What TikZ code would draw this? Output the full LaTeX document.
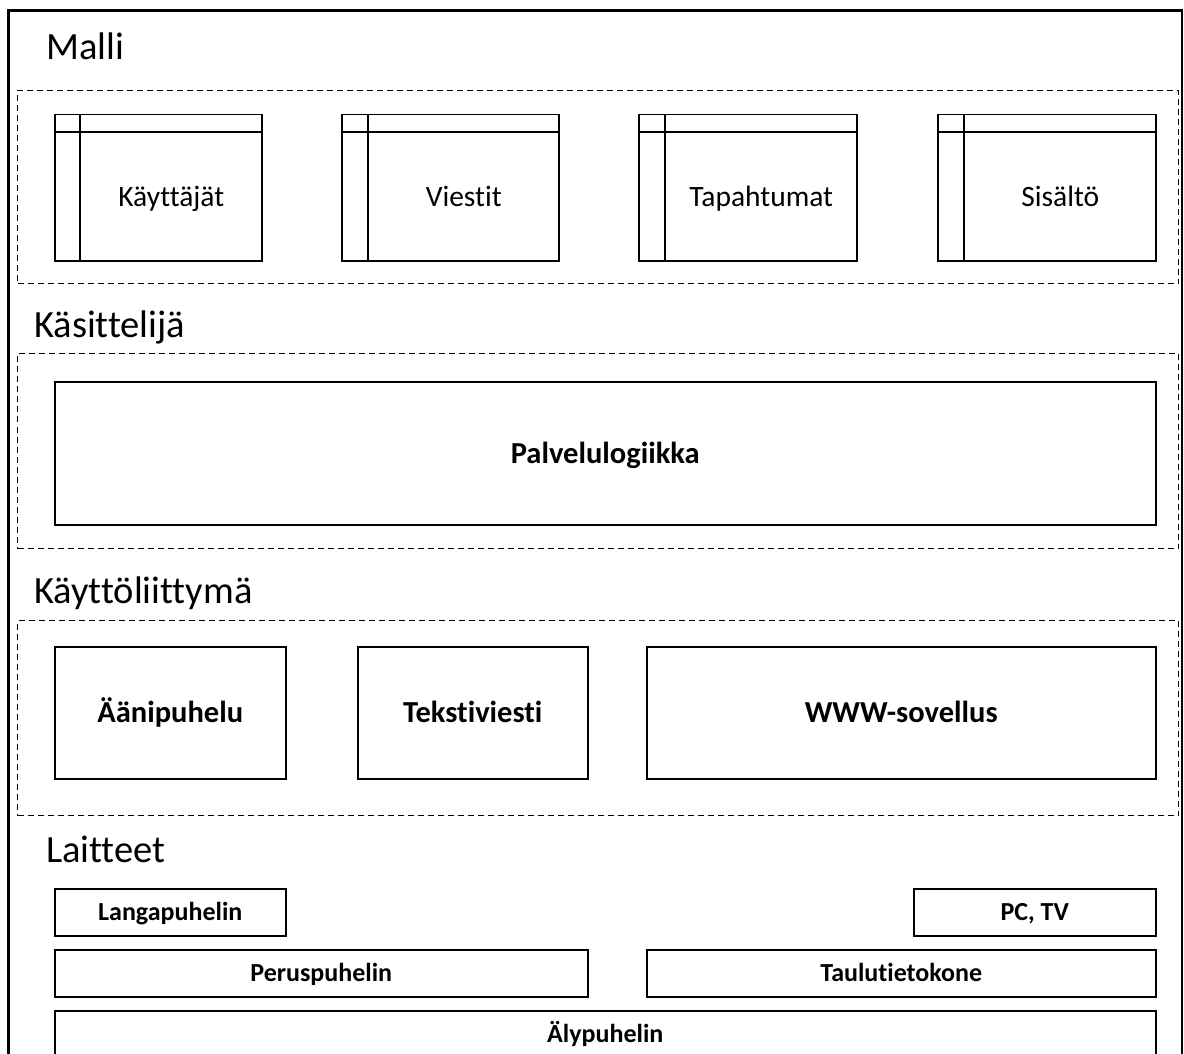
\documentclass[tikz,border=0pt]{standalone}
\usepackage{fontspec}
\setmainfont{Carlito}[Ligatures={NoCommon}, RawFeature={-liga}]
\usetikzlibrary{calc}
\tikzset{
  frameline/.style={line width=2.5pt, draw=black},
  group/.style={draw=black, line width=1pt, dash pattern=on 6pt off 4pt},
  box/.style={draw=black, line width=1.5pt, rectangle, inner sep=0pt, anchor=north west},
  ttl/.style={anchor=base west, inner sep=0pt, font=\fontsize{38.5}{44}\selectfont},
  tbltext/.style={inner sep=0pt, font=\fontsize{29.5}{33}\selectfont, text height=24pt, text depth=4pt},
  bigbold/.style={inner sep=0pt, font=\fontsize{30.5}{34}\selectfont\bfseries, text height=24pt, text depth=4.5pt},
  smallbold/.style={inner sep=0pt, font=\fontsize{26}{29}\selectfont\bfseries, text height=20pt, text depth=3.75pt},
}
\newcommand{\mytable}[5]{% name, x, y, width, vline offset
  \node[box, minimum width=#4pt, minimum height=146pt] (#1) at (#2,#3) {};
  \draw[line width=1.5pt] ([yshift=-18pt]#1.north west) -- ([yshift=-18pt]#1.north east);
  \draw[line width=1.5pt] ([xshift=#5pt]#1.north west) -- ([xshift=#5pt]#1.south west);
  \coordinate (#1-in) at ([xshift=#5pt,yshift=-18pt]#1.north west);
}
\begin{document}
\begin{tikzpicture}[x=1pt,y=-1pt]
\clip (0,0) rectangle (1184,1054);
\useasboundingbox (0,0) rectangle (1184,1054);
% outer frame
\draw[frameline] (8.7,1070) -- (8.7,10.3) -- (1182,10.3) -- (1182,1070);

% Malli
\node[ttl] (tMalli) at (46,60) {Malli};
\node[group, rectangle, inner sep=0pt, anchor=north west, minimum width=1161pt, minimum height=193pt] (gMalli) at (17,90) {};
\mytable{t1}{54}{114}{207}{26}
\mytable{t2}{341}{114}{217}{27}
\mytable{t3}{638}{114}{218}{27}
\mytable{t4}{937}{114}{218}{27}
\node[tbltext] (l1) at ($(t1-in)!0.5!(t1.south east)$) {Käyttäjät};
\node[tbltext] (l2) at ($(t2-in)!0.5!(t2.south east)$) {Viestit};
\node[tbltext] (l3) at ($(t3-in)!0.5!(t3.south east)$) {Tapahtumat};
\node[tbltext] (l4) at ($(t4-in)!0.5!(t4.south east)$) {Sisältö};

% Käsittelijä
\node[ttl] (tKas) at (34,337) {Käsittelijä};
\node[group, rectangle, inner sep=0pt, anchor=north west, minimum width=1161pt, minimum height=195pt] (gKas) at (17,353) {};
\node[box, minimum width=1101pt, minimum height=143pt] (palv) at (54,381) {};
\node[bigbold] (palvt) at (palv.center) {Palvelulogiikka};

% Käyttöliittymä
\node[ttl] (tUI) at (34,603) {Käyttöliittymä};
\node[group, rectangle, inner sep=0pt, anchor=north west, minimum width=1161pt, minimum height=195pt] (gUI) at (17,620) {};
\node[box, minimum width=231pt, minimum height=132pt] (aani) at (54,646) {};
\node[bigbold] (aanit) at (aani.center) {Äänipuhelu};
\node[box, minimum width=230pt, minimum height=132pt] (teks) at (357,646) {};
\node[bigbold] (tekst) at (teks.center) {Tekstiviesti};
\node[box, minimum width=509pt, minimum height=132pt] (www) at (646,646) {};
\node[bigbold] (wwwt) at (www.center) {WWW-sovellus};

% Laitteet
\node[ttl] (tLait) at (46,862) {Laitteet};
\node[box, minimum width=231pt, minimum height=47pt] (lang) at (54,888) {};
\node[smallbold] (langt) at (lang.center) {Langapuhelin};
\node[box, minimum width=242pt, minimum height=47pt] (pctv) at (913,888) {};
\node[smallbold] (pctvt) at (pctv.center) {PC, TV};
\node[box, minimum width=533pt, minimum height=47pt] (perus) at (54,949) {};
\node[smallbold] (perust) at (perus.center) {Peruspuhelin};
\node[box, minimum width=509pt, minimum height=47pt] (taulu) at (646,949) {};
\node[smallbold] (taulut) at (taulu.center) {Taulutietokone};
\node[box, minimum width=1101pt, minimum height=47pt] (aly) at (54,1010) {};
\node[smallbold] (alyt) at (aly.center) {Älypuhelin};
\end{tikzpicture}
\end{document}
